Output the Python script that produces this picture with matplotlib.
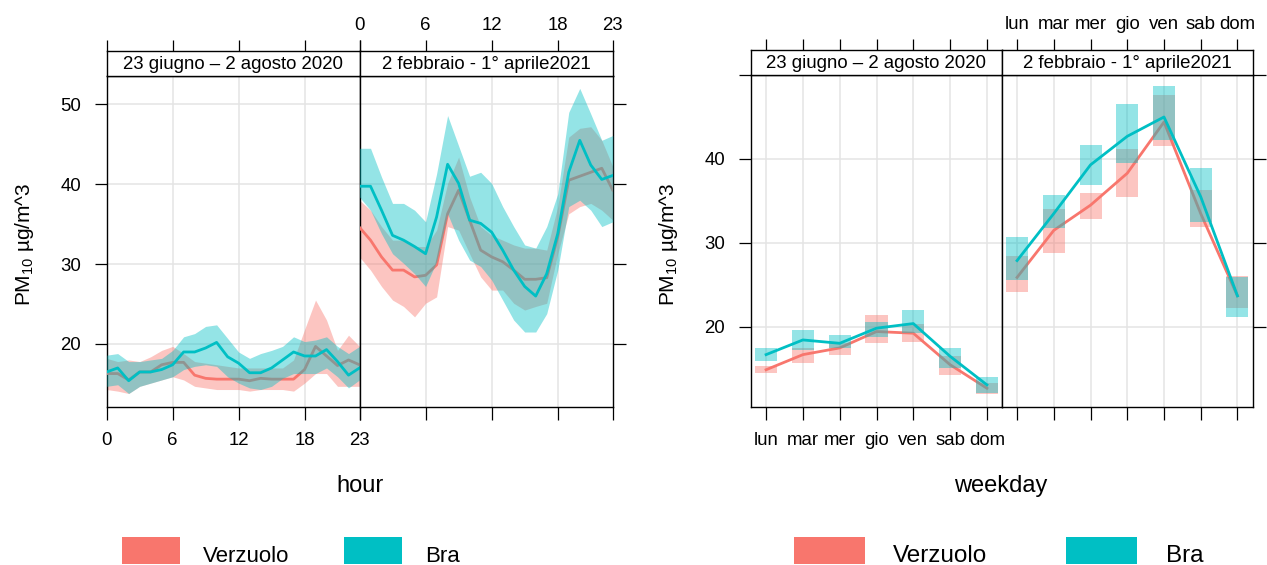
import matplotlib
matplotlib.use("Agg")
import matplotlib.pyplot as plt
from matplotlib.patches import Rectangle

plt.rcParams["font.family"] = ["Liberation Sans", "DejaVu Sans"]
plt.rcParams["mathtext.fontset"] = "custom"
plt.rcParams["mathtext.rm"] = "Liberation Sans"
plt.rcParams["mathtext.it"] = "Liberation Sans:italic"

# ---- data -------------------------------------------------------------
periods = ["23 giugno – 2 agosto 2020", "2 febbraio - 1° aprile2021"]
sites = ["Verzuolo", "Bra"]
hours = list(range(24))
hour_ticks = [0, 6, 12, 18, 23]
weekdays = ["lun", "mar", "mer", "gio", "ven", "sab", "dom"]

# hourly means and confidence bands, summer 2020
ver_sum_mean = [16.3, 16.3, 15.5, 16.5, 16.5, 17.4, 17.7, 17.7, 16.1, 15.7, 15.6, 15.6,
                15.6, 15.4, 15.7, 15.6, 15.6, 15.6, 16.8, 19.7, 18.5, 17.3, 18.0, 17.4]
ver_sum_lo = [14.3, 14.1, 13.8, 14.7, 15.1, 15.5, 15.9, 15.5, 14.7, 14.5, 14.3, 14.3,
              14.3, 14.1, 14.3, 14.3, 14.3, 14.1, 15.1, 16.3, 16.3, 14.7, 14.7, 14.7]
ver_sum_hi = [18.2, 17.8, 18.0, 17.8, 18.4, 19.2, 19.7, 18.8, 17.8, 17.6, 17.4, 17.2,
              17.0, 17.0, 17.0, 17.0, 17.0, 18.0, 21.8, 25.5, 23.0, 19.2, 21.1, 19.7]
bra_sum_mean = [16.5, 17.0, 15.4, 16.5, 16.5, 16.8, 17.4, 19.0, 19.0, 19.5, 20.2, 18.4,
                17.6, 16.4, 16.4, 17.0, 18.0, 19.0, 18.5, 18.5, 19.3, 17.8, 16.1, 17.0]
bra_sum_lo = [14.7, 14.9, 13.8, 14.7, 15.1, 15.5, 15.9, 16.8, 17.2, 17.4, 17.2, 15.9,
              15.1, 14.5, 14.3, 14.7, 15.7, 16.3, 16.3, 16.3, 17.0, 15.9, 14.5, 15.5]
bra_sum_hi = [18.6, 18.8, 17.8, 17.8, 18.0, 18.2, 19.2, 20.9, 21.3, 22.2, 22.4, 20.7,
              19.0, 18.2, 18.8, 19.2, 19.7, 20.9, 20.3, 20.5, 20.9, 19.7, 18.8, 19.7]

# hourly means and confidence bands, winter 2021
ver_win_mean = [34.6, 33.0, 30.9, 29.25, 29.25, 28.4, 28.6, 29.9, 36.3, 39.25, 35.5, 31.75,
                30.9, 30.3, 29.25, 28.1, 28.1, 28.3, 33.4, 40.5, 41.0, 41.5, 42.0, 39.25]
ver_win_lo = [30.9, 29.25, 27.2, 25.5, 24.7, 23.4, 25.1, 25.9, 34.7, 34.25, 31.3, 28.4,
              26.75, 26.75, 25.1, 24.25, 24.7, 25.1, 31.3, 36.3, 37.2, 37.6, 36.75, 35.5]
ver_win_hi = [38.0, 36.75, 34.7, 33.0, 33.0, 32.2, 32.2, 34.25, 40.1, 43.4, 38.4, 34.7,
              33.6, 33.0, 32.4, 32.0, 32.0, 31.75, 37.2, 45.9, 47.0, 47.2, 45.5, 42.2]
bra_win_mean = [39.75, 39.75, 36.75, 33.6, 33.0, 32.2, 31.3, 35.9, 42.5, 40.1, 35.5, 35.1,
                34.0, 31.75, 29.25, 27.2, 26.0, 28.8, 33.8, 41.5, 45.5, 42.4, 40.6, 41.1]
bra_win_lo = [38.4, 36.75, 33.8, 31.3, 30.1, 28.8, 27.2, 30.3, 36.3, 33.0, 30.5, 29.7,
              28.0, 25.5, 23.0, 21.5, 21.5, 23.8, 29.25, 37.2, 38.0, 36.75, 34.7, 35.3]
bra_win_hi = [44.5, 44.5, 40.9, 37.6, 37.6, 36.75, 35.3, 41.3, 48.6, 44.8, 41.0, 41.5,
              40.1, 37.2, 34.7, 32.4, 32.0, 34.7, 38.8, 49.0, 52.0, 48.8, 45.5, 46.1]

# day-of-week means and confidence intervals
ver_sum_wd_mean = [14.9, 16.7, 17.5, 19.45, 19.25, 15.5, 12.7]
ver_sum_wd_lo = [14.5, 15.7, 16.7, 18.05, 18.25, 14.3, 12.0]
ver_sum_wd_hi = [15.3, 17.5, 18.05, 21.4, 20.4, 16.5, 13.3]
bra_sum_wd_mean = [16.7, 18.45, 18.05, 19.85, 20.4, 16.5, 13.1]
bra_sum_wd_lo = [15.9, 17.3, 17.5, 18.85, 19.25, 15.1, 12.1]
bra_sum_wd_hi = [17.5, 19.6, 19.0, 20.6, 22.0, 17.5, 14.0]

ver_win_wd_mean = [25.9, 31.5, 34.5, 38.3, 44.4, 33.5, 23.7]
ver_win_wd_lo = [24.1, 28.85, 32.9, 35.5, 41.5, 31.9, 22.2]
ver_win_wd_hi = [28.45, 34.05, 36.0, 41.15, 47.6, 36.3, 26.1]
bra_win_wd_mean = [27.9, 33.5, 39.3, 42.7, 45.0, 35.5, 23.7]
bra_win_wd_lo = [25.6, 31.75, 36.9, 39.5, 42.3, 32.5, 21.15]
bra_win_wd_hi = [30.7, 35.7, 41.7, 46.6, 48.7, 38.9, 26.0]

# ---- style ------------------------------------------------------------
RED = "#F8766D"
TEAL = "#00BFC4"
ALPHA = 0.42
GRID = "#E4E4E4"
TICK_FS = 13.4
LINE_W = 2.0

W, H = 1267, 565
fig = plt.figure(figsize=(W / 100, H / 100), dpi=100)


def rect(x0, y0, x1, y1):
    """Pixel box (top-left origin) -> figure fraction rect."""
    return [x0 / W, 1 - y1 / H, (x1 - x0) / W, (y1 - y0) / H]


def make_pair(xs, y_strip, y_top, y_bot, xlim, ylim, xticks, xlabels,
              xgrid, yticks, ylabels, ygrid):
    axes = []
    for i in range(2):
        ax = fig.add_axes(rect(xs[i], y_top, xs[i + 1], y_bot))
        st = fig.add_axes(rect(xs[i], y_strip, xs[i + 1], y_top))
        ax.set_xlim(*xlim)
        ax.set_ylim(*ylim)
        for g in xgrid:
            ax.axvline(g, color=GRID, lw=1.1, zorder=0)
        for g in ygrid:
            ax.axhline(g, color=GRID, lw=1.1, zorder=0)
        for sp in ax.spines.values():
            sp.set_linewidth(1.0)
            sp.set_color("black")
        ax.set_xticks(xticks)
        ax.set_xticklabels(xlabels if i == 0 else [""] * len(xticks),
                           fontsize=TICK_FS)
        ax.set_yticks(yticks)
        if i == 0:
            ax.set_yticklabels(ylabels, fontsize=TICK_FS)
            ax.tick_params(axis="y", left=True, right=False, labelleft=True)
        else:
            ax.set_yticklabels([""] * len(yticks))
            ax.tick_params(axis="y", left=False, right=True,
                           labelleft=False, labelright=False)
        ax.tick_params(axis="x", direction="out", length=9.4, width=0.9,
                       pad=9)
        ax.tick_params(axis="y", direction="out", length=9.0, width=0.9,
                       pad=9.5)

        # strip with the period name and the top axis
        st.set_xlim(*xlim)
        st.set_ylim(0, 1)
        st.set_yticks([])
        st.set_xticks(xticks)
        st.set_xticklabels(xlabels if i == 1 else [""] * len(xticks),
                           fontsize=TICK_FS)
        st.tick_params(axis="x", bottom=False, top=True, labelbottom=False,
                       labeltop=(i == 1), direction="out", length=8,
                       width=0.9, pad=4)
        for sp in st.spines.values():
            sp.set_linewidth(1.0)
            sp.set_color("black")
        st.text(0.5, 0.45, periods[i], transform=st.transAxes, ha="center",
                va="center", fontsize=13.4)
        axes.append(ax)
    return axes


# ---- hourly panels ----------------------------------------------------
hax = make_pair([106.7, 359.5, 612.8], 51, 76, 406.7, (0, 23), (12.15, 53.55),
                hour_ticks, [str(h) for h in hour_ticks], [6, 12, 18],
                [20, 30, 40, 50], ["20", "30", "40", "50"], [20, 30, 40, 50])

hour_sets = [
    (ver_sum_mean, ver_sum_lo, ver_sum_hi, bra_sum_mean, bra_sum_lo, bra_sum_hi),
    (ver_win_mean, ver_win_lo, ver_win_hi, bra_win_mean, bra_win_lo, bra_win_hi),
]
for ax, (vm, vl, vh, bm, bl, bh) in zip(hax, hour_sets):
    ax.fill_between(hours, vl, vh, color=RED, alpha=ALPHA, lw=0, zorder=2)
    ax.plot(hours, vm, color=RED, lw=LINE_W, zorder=3)
    ax.fill_between(hours, bl, bh, color=TEAL, alpha=ALPHA, lw=0, zorder=4)
    ax.plot(hours, bm, color=TEAL, lw=LINE_W, zorder=5)

# ---- weekday panels ---------------------------------------------------
day_pos = list(range(1, 8))
wax = make_pair([751, 1002, 1252.5], 50, 75, 406.7, (0.59, 7.41), (10.5, 50.0),
                day_pos, weekdays, day_pos,
                [20, 30, 40, 50], ["20", "30", "40", ""], [20, 30, 40])

day_sets = [
    (ver_sum_wd_mean, ver_sum_wd_lo, ver_sum_wd_hi,
     bra_sum_wd_mean, bra_sum_wd_lo, bra_sum_wd_hi),
    (ver_win_wd_mean, ver_win_wd_lo, ver_win_wd_hi,
     bra_win_wd_mean, bra_win_wd_lo, bra_win_wd_hi),
]
for ax, (vm, vl, vh, bm, bl, bh) in zip(wax, day_sets):
    ax.bar(day_pos, [h - l for h, l in zip(vh, vl)], bottom=vl, width=0.6,
           color=RED, alpha=ALPHA, lw=0, zorder=2)
    ax.plot(day_pos, vm, color=RED, lw=LINE_W, zorder=3)
    ax.bar(day_pos, [h - l for h, l in zip(bh, bl)], bottom=bl, width=0.6,
           color=TEAL, alpha=ALPHA, lw=0, zorder=4)
    ax.plot(day_pos, bm, color=TEAL, lw=LINE_W, zorder=5)

# ---- axis titles ------------------------------------------------------
ylab = r"PM$_{10}$ µg/m^3"
fig.text(24 / W, 1 - 244 / H, ylab, rotation=90, ha="center", va="center",
         fontsize=15)
fig.text(669 / W, 1 - 244 / H, ylab, rotation=90, ha="center", va="center",
         fontsize=15)
fig.text(359.5 / W, 1 - 486 / H, "hour", ha="center", va="center", fontsize=17)
fig.text(1001 / W, 1 - 486 / H, "weekday", ha="center", va="center",
         fontsize=17)

# ---- legends ----------------------------------------------------------
def legend(entries, fs):
    for (x0, x1, tx), name, col in zip(entries, sites, [RED, TEAL]):
        fig.add_artist(Rectangle((x0 / W, 1 - 563.5 / H), (x1 - x0) / W,
                                 26.5 / H, transform=fig.transFigure,
                                 facecolor=col, edgecolor="none"))
        fig.text(tx / W, 1 - 562.5 / H, name, ha="left", va="baseline",
                 fontsize=fs)


legend([(122, 180, 203), (344, 402, 425)], 16)
legend([(794, 865, 893), (1066, 1137, 1166)], 17.5)

fig.savefig("out.png", dpi=100, facecolor="white")
